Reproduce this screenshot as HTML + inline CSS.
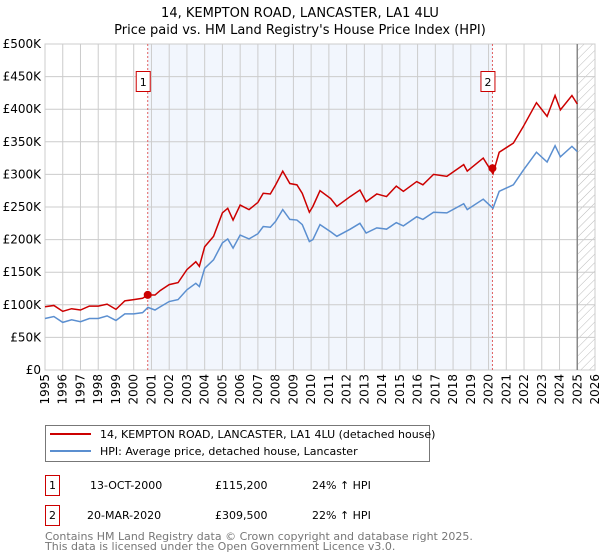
<!DOCTYPE html>
<html><head><meta charset="utf-8"><style>
body{margin:0;background:#fff;font-family:"DejaVu Sans","Liberation Sans",sans-serif;}
svg{display:block}
</style></head><body>
<svg id="chart" width="600" height="560" viewBox="0 0 600 560" xmlns="http://www.w3.org/2000/svg" font-family="DejaVu Sans, Liberation Sans, sans-serif">
<text x="300" y="17" text-anchor="middle" font-size="13" fill="#000">14, KEMPTON ROAD, LANCASTER, LA1 4LU</text>
<text x="300" y="34" text-anchor="middle" font-size="13" fill="#000">Price paid vs. HM Land Registry's House Price Index (HPI)</text>
<defs><pattern id="hatch" width="6" height="6" patternUnits="userSpaceOnUse" patternTransform="rotate(45)"><line x1="0" y1="0" x2="0" y2="6" stroke="#bbb" stroke-width="1"/></pattern></defs>
<g id="plot"></g>
<g>
<rect x="45.5" y="425.5" width="384" height="36" fill="#fff" stroke="#777"/>
<line x1="50" y1="434" x2="91" y2="434" stroke="#cc0000" stroke-width="2"/>
<text x="100" y="438" font-size="11">14, KEMPTON ROAD, LANCASTER, LA1 4LU (detached house)</text>
<line x1="50" y1="451" x2="91" y2="451" stroke="#5b8fd0" stroke-width="2"/>
<text x="100" y="455" font-size="11">HPI: Average price, detached house, Lancaster</text>
</g>
<g font-size="11">
<rect x="45.5" y="475.5" width="14" height="20" fill="#fff" stroke="#cc0000"/>
<text x="52.5" y="489" text-anchor="middle">1</text>
<text x="90" y="489">13-OCT-2000</text><text x="215" y="489">£115,200</text><text x="312" y="489">24% ↑ HPI</text>
<rect x="45.5" y="505.5" width="14" height="20" fill="#fff" stroke="#cc0000"/>
<text x="52.5" y="519" text-anchor="middle">2</text>
<text x="87" y="519">20-MAR-2020</text><text x="215" y="519">£309,500</text><text x="312" y="519">22% ↑ HPI</text>
</g>
<text x="45" y="540" font-size="11" fill="#777">Contains HM Land Registry data © Crown copyright and database right 2025.</text>
<text x="45" y="550" font-size="11" fill="#777">This data is licensed under the Open Government Licence v3.0.</text>
</svg>
<script>
const yTicks=[0,50000,100000,150000,200000,250000,300000,350000,400000,450000,500000];
const yTickLabels=["£0","£50K","£100K","£150K","£200K","£250K","£300K","£350K","£400K","£450K","£500K"];
const xYears=[1995,1996,1997,1998,1999,2000,2001,2002,2003,2004,2005,2006,2007,2008,2009,2010,2011,2012,2013,2014,2015,2016,2017,2018,2019,2020,2021,2022,2023,2024,2025,2026];
const hpiDates=[1995,1995.5,1996,1996.5,1997,1997.5,1998,1998.5,1999,1999.5,2000,2000.5,2000.8,2001.2,2001.5,2002,2002.5,2003,2003.5,2003.7,2004,2004.5,2005,2005.3,2005.6,2006,2006.5,2007,2007.3,2007.7,2008,2008.4,2008.8,2009.2,2009.5,2009.9,2010.1,2010.5,2011.1,2011.45,2012.2,2012.75,2013.1,2013.7,2014.25,2014.8,2015.2,2015.95,2016.3,2016.9,2017.65,2018.6,2018.8,2019.7,2020.25,2020.6,2021.4,2021.95,2022.7,2023.3,2023.75,2024.05,2024.7,2025.0];
const hpiValues=[79,82,73,77,74,79,79,83,76,86,86,88,96,92,97,105,108,123,133,128,156,169,195,201,187,207,201,209,220,219,228,246,231,230,223,197,200,223,212,205,216,225,210,218,216,226,221,235,231,242,241,255,246,262,248,274,284,306,334,319,344,327,343,335];
const priceDates=[1995,1995.5,1996,1996.5,1997,1997.5,1998,1998.5,1999,1999.5,2000,2000.5,2000.8,2001.2,2001.5,2002,2002.5,2003,2003.5,2003.7,2004,2004.5,2005,2005.3,2005.6,2006,2006.5,2007,2007.3,2007.7,2008,2008.4,2008.8,2009.2,2009.5,2009.9,2010.1,2010.5,2011.1,2011.45,2012.2,2012.75,2013.1,2013.7,2014.25,2014.8,2015.2,2015.95,2016.3,2016.9,2017.65,2018.6,2018.8,2019.7,2020.25,2020.6,2021.4,2021.95,2022.7,2023.3,2023.75,2024.05,2024.7,2025.0];
const priceValues=[97,99,90,94,92,98,98,101,93,106,108,110,115,115,122,131,134,154,166,159,189,205,241,248,230,253,246,257,271,270,284,305,286,284,271,242,251,275,263,251,266,276,258,270,266,282,274,289,284,300,297,315,305,325,301,334,348,373,410,389,421,399,421,408];
const saleDates=[2000.79,2020.22];
const saleValues=[115200,309500];
const saleLabels=["1","2"];

const NS="http://www.w3.org/2000/svg";
const L=45,R=595,T=44,B=370;
const x=y=>L+(y-1995)/(2026-1995)*(R-L);
const yv=v=>B-v/500000*(B-T);
const g=document.getElementById('plot');
function mk(tag,attrs,parent){const e=document.createElementNS(NS,tag);for(const k in attrs)e.setAttribute(k,attrs[k]);(parent||g).appendChild(e);return e;}

const shade=mk('rect',{x:x(saleDates[0]),y:T,width:x(saleDates[1])-x(saleDates[0]),height:B-T,fill:'#eef3fc',opacity:0.75});


const hatch=mk('rect',{x:x(2025),y:T,width:R-x(2025),height:B-T,fill:'url(#hatch)'});



yTicks.forEach((t,i)=>{
  const ln=mk('line',{x1:L,x2:R,y1:yv(t),y2:yv(t),stroke:'#ccc','stroke-width':1});
  
  
  const tx=mk('text',{x:L-4,y:yv(t)+4,'text-anchor':'end','font-size':12});
  
  
  tx.textContent=yTickLabels[i];
});
xYears.forEach(yr=>{
  const ln=mk('line',{x1:x(yr),x2:x(yr),y1:T,y2:B,stroke:'#ccc','stroke-width':1});
  
  
  const tx=mk('text',{x:0,y:0,'text-anchor':'end','font-size':12,transform:`translate(${x(yr)+4},${B+4}) rotate(-90)`});
  
  
  tx.textContent=yr;
});
const frame=mk('rect',{x:L,y:T,width:R-L,height:B-T,fill:'none',stroke:'#ccc'});


const endLine=mk('line',{x1:x(2025),x2:x(2025),y1:T,y2:B,stroke:'#888','stroke-width':1.5});



saleDates.forEach((d,i)=>{
  const ln=mk('line',{x1:x(d),x2:x(d),y1:T,y2:B,stroke:'#e06060','stroke-width':1,'stroke-dasharray':'2,2'});
  
  
  const bx=mk('rect',{x:x(d)-11.5,y:71.5,width:14,height:20,fill:'#fff',stroke:'#cc0000'});
  
  
  const tx=mk('text',{x:x(d)-4.5,y:86,'text-anchor':'middle','font-size':11});
  
  
  tx.textContent=saleLabels[i];
});

const hp=mk('polyline',{points:hpiDates.map((d,i)=>x(d)+','+yv(hpiValues[i]*1000)).join(' '),fill:'none',stroke:'#5b8fd0','stroke-width':1.5});


const pp=mk('polyline',{points:priceDates.map((d,i)=>x(d)+','+yv(priceValues[i]*1000)).join(' '),fill:'none',stroke:'#cc0000','stroke-width':1.5});


saleDates.forEach((d,i)=>{
  const c=mk('circle',{cx:x(d),cy:yv(saleValues[i]),r:4,fill:'#cc0000'});
  
  
});
</script>
</body></html>
